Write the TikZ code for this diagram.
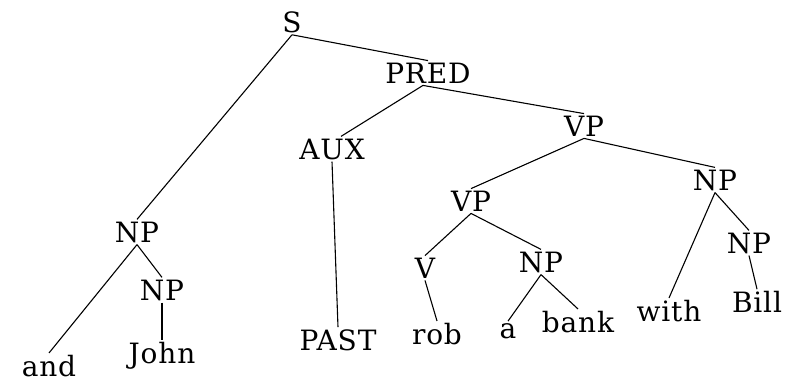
\documentclass[tikz,border=0pt]{standalone}
\usepackage{fontspec}
\newfontfamily\treefont[LetterSpace=3]{DejaVu Serif}
\begin{document}
\begin{tikzpicture}[x=1pt,y=-1pt,
  lab/.style={inner sep=2pt, font=\treefont\fontsize{28}{30}\selectfont},
  br/.style={line width=1.1pt}]
\useasboundingbox (0,0) rectangle (797,383);
\node[lab] (S) at (292,22) {S};
\node[lab] (PRED) at (428,73) {PRED};
\node[lab] (AUX) at (332,149) {AUX};
\node[lab] (VP1) at (584,126) {VP};
\node[lab] (NPL) at (137,232) {NP};
\node[lab] (NPS) at (162,290) {NP};
\node[lab] (and) at (49,366) {and};
\node[lab] (John) at (162,356) {John};
\node[lab] (PAST) at (338,340) {PAST};
\node[lab] (VP2) at (471,201) {VP};
\node[lab] (NPR) at (715,180) {NP};
\node[lab] (V) at (425,268) {V};
\node[lab] (NPM) at (541,262) {NP};
\node[lab] (rob) at (437,334) {rob};
\node[lab] (a) at (508,331) {a};
\node[lab] (bank) at (578,322) {bank};
\node[lab] (with) at (669,311) {with};
\node[lab] (NPRR) at (749,243) {NP};
\node[lab] (Bill) at (757,302) {Bill};
\draw[br] (S.south) -- (PRED.north);
\draw[br] (S.south) -- (NPL.north);
\draw[br] ([xshift=-5pt]PRED.south) -- ([xshift=9pt]AUX.north);
\draw[br] ([xshift=-5pt]PRED.south) -- (VP1.north);
\draw[br] (AUX.south) -- (PAST.north);
\draw[br] (VP1.south) -- (VP2.north);
\draw[br] (VP1.south) -- (NPR.north);
\draw[br] (VP2.south) -- (V.north);
\draw[br] (VP2.south) -- (NPM.north);
\draw[br] (V.south) -- (rob.north);
\draw[br] (NPM.south) -- (a.north);
\draw[br] (NPM.south) -- (bank.north);
\draw[br] (NPR.south) -- (with.north);
\draw[br] (NPR.south) -- (NPRR.north);
\draw[br] (NPRR.south) -- (Bill.north);
\draw[br] (NPL.south) -- (and.north);
\draw[br] (NPL.south) -- (NPS.north);
\draw[br] (NPS.south) -- (John.north);
\end{tikzpicture}
\end{document}
